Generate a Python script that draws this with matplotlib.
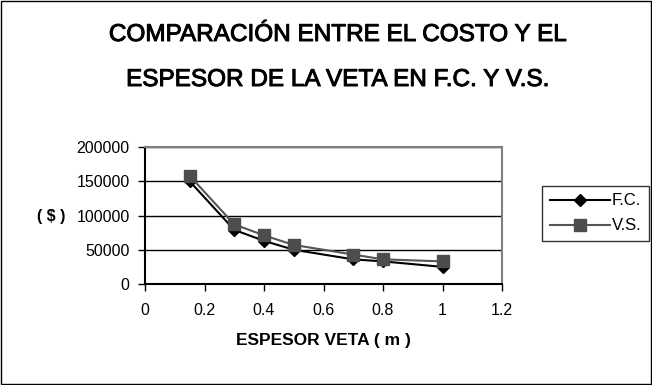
import matplotlib.pyplot as plt
import matplotlib.patheffects as pe
from matplotlib.patches import Rectangle

plt.rcParams['font.family'] = ['Liberation Sans', 'DejaVu Sans']

espesor = [0.15, 0.3, 0.4, 0.5, 0.7, 0.8, 1.0]
costo_fc = [150000, 79000, 63000, 50000, 36000, 33000, 25000]
costo_vs = [158000, 87000, 71000, 57000, 43000, 36000, 33000]

titulo = ['COMPARACIÓN ENTRE EL COSTO Y EL', 'ESPESOR DE LA VETA EN F.C. Y V.S.']
xticks = [0, 0.2, 0.4, 0.6, 0.8, 1, 1.2]
xtick_labels = ['0', '0.2', '0.4', '0.6', '0.8', '1', '1.2']
yticks = [0, 50000, 100000, 150000, 200000]

fig = plt.figure(figsize=(6.52, 3.85), dpi=100)
fig.patches.append(Rectangle((0.002, 0.002), 0.996, 0.996, transform=fig.transFigure,
                             fill=False, edgecolor='black', linewidth=1))

ax = fig.add_axes([145/652, 1 - 284/385, (502 - 145)/652, (284 - 147)/385])

ax.plot(espesor, costo_fc, color='black', linewidth=1.5, marker='D', markersize=6.5,
        markerfacecolor='black', markeredgecolor='black', label='F.C.', zorder=3)
ax.plot(espesor, costo_vs, color='#555555', linewidth=1.5, marker='s', markersize=9,
        markerfacecolor='#4d4d4d', markeredgecolor='#4d4d4d', label='V.S.', zorder=4)

ax.set_xlim(0, 1.2)
ax.set_ylim(0, 200000)
ax.set_xticks(xticks)
ax.set_xticklabels(xtick_labels)
ax.set_yticks(yticks)
ax.set_yticklabels([str(v) for v in yticks])
ax.tick_params(axis='both', direction='out', length=5, width=1, labelsize=11.5, color='black')
ax.tick_params(axis='x', pad=9)
ax.tick_params(axis='y', pad=6)
ax.grid(axis='y', color='black', linewidth=1)
ax.set_axisbelow(True)
for s in ['top', 'right']:
    ax.spines[s].set_color('#808080')
    ax.spines[s].set_linewidth(1.5)
for s in ['left', 'bottom']:
    ax.spines[s].set_color('black')
    ax.spines[s].set_linewidth(1.5)

fig.text(323/652, 1 - 340/385, 'ESPESOR VETA ( m )', fontsize=12.5, fontweight='bold',
         ha='center', va='center')
fig.text(51/652, 1 - 217/385, '( $ )', fontsize=11.5, fontweight='bold', ha='center', va='center')

for i, linea in enumerate(titulo):
    fig.text(337/652, 1 - (35 + 45*i)/385, linea, fontsize=17.5, ha='center', va='center',
             path_effects=[pe.withStroke(linewidth=0.7, foreground='black')])

leg = fig.legend(loc='upper left', bbox_to_anchor=(542/652, 1 - 186/385), frameon=True,
                 fancybox=False, edgecolor='black', fontsize=12, handlelength=3.6,
                 borderpad=0.45, labelspacing=0.6, handletextpad=0.15, borderaxespad=0)
leg.get_frame().set_linewidth(1)

fig.savefig('out.png', dpi=100)
